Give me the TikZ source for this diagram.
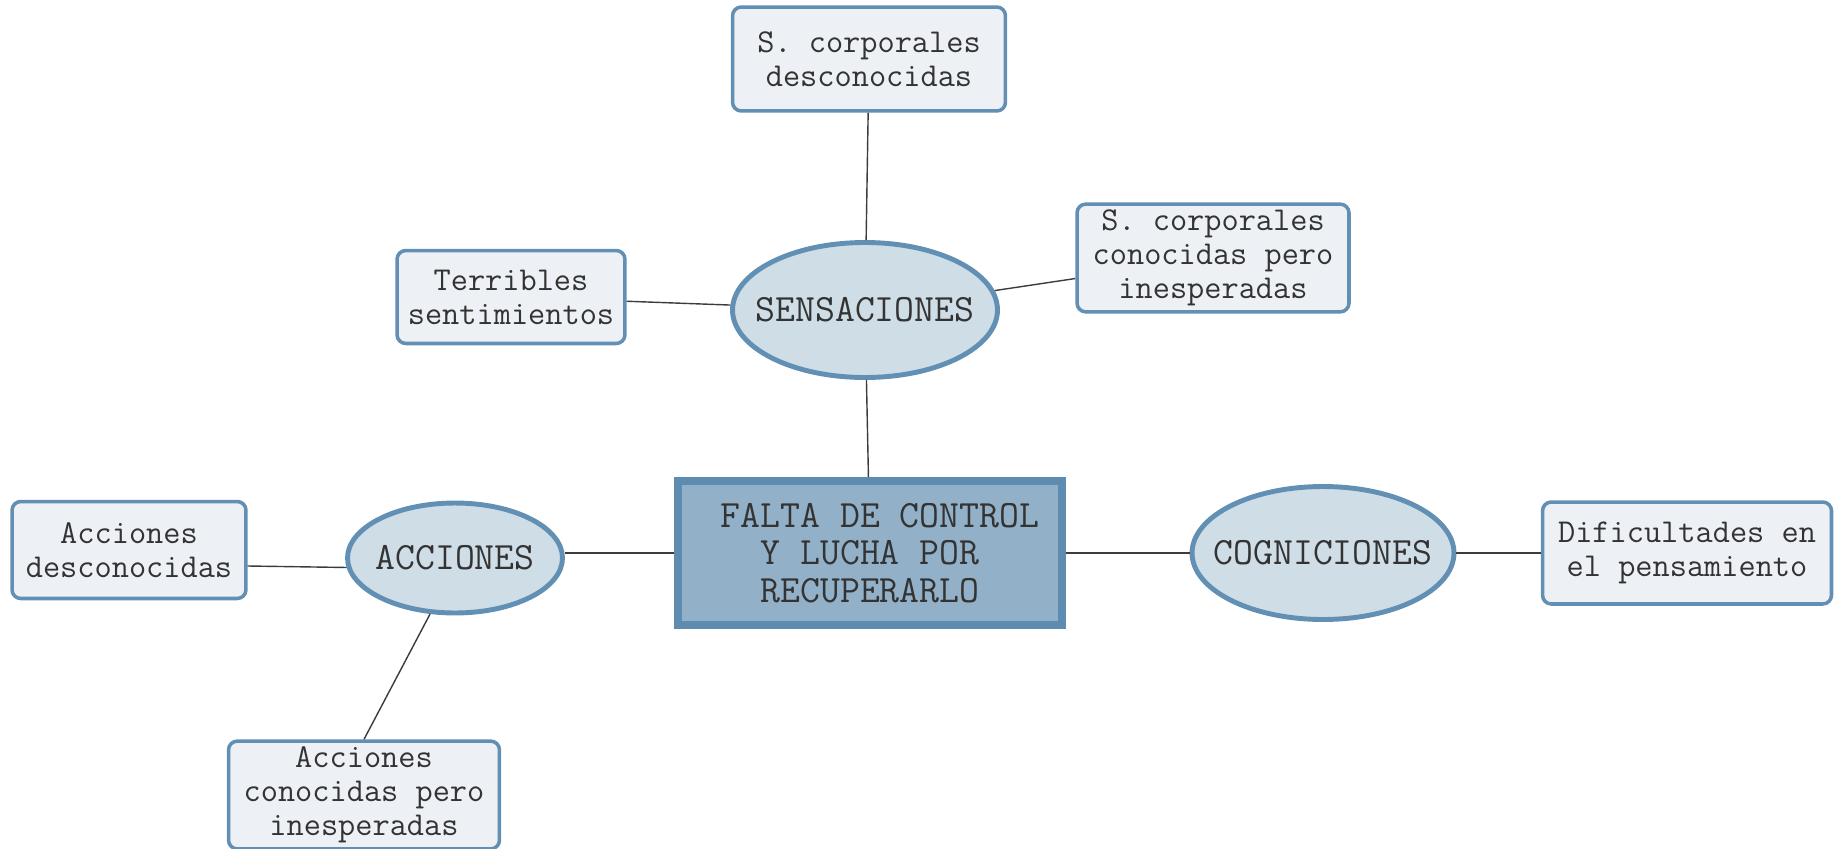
\documentclass[tikz,border=0pt]{standalone}
\usepackage{fontspec}
\usepackage{tikz}
\usetikzlibrary{shapes}
\usetikzlibrary{arrows}
\definecolor{borde}{RGB}{98,143,180}
\definecolor{fondocaja}{RGB}{237,241,246}
\definecolor{fondoelipse}{RGB}{207,221,231}
\definecolor{fondonucleo}{RGB}{146,177,200}
\definecolor{bordenucleo}{RGB}{94,140,176}
\definecolor{texto}{RGB}{51,51,51}
\definecolor{linea}{RGB}{60,60,60}
\newcommand{\sinancho}[1]{\makebox[0pt]{#1}}
\tikzstyle{nucleo}=[
        rectangle,
        draw=bordenucleo,
        line width=4.5pt,
        fill=fondonucleo,
        text=texto,
        align=center,
        minimum width=7.68cm,
        minimum height=2.88cm,
        font=\ttfamily\fontsize{22}{21.5}\selectfont
]
\tikzstyle{categoria}=[ellipse,draw=borde,line width=2.8pt,fill=fondoelipse,text=texto,inner sep=0pt,font=\ttfamily\fontsize{22}{24}\selectfont]
\tikzstyle{detalle}=[rectangle,draw=borde,line width=2pt,rounded corners=5pt,fill=fondocaja,text=texto,align=center,font=\ttfamily\fontsize{19}{19.3}\selectfont]
\tikzstyle{union}=[draw=linea,line width=0.8pt]
\begin{document}
\begin{tikzpicture}[x=0.02cm,y=-0.02cm]
\useasboundingbox (0,0) rectangle (1841,848);
\node[nucleo] (falta) at (870,553) {\hspace{0.4cm}FALTA DE CONTROL\\Y LUCHA POR\\RECUPERARLO};
\node[categoria,minimum width=5.3cm,minimum height=2.7cm] (sens) at (865,310) {\sinancho{SENSACIONES}};
\node[categoria,minimum width=4.3cm,minimum height=2.2cm] (acc) at (455,558) {\sinancho{ACCIONES}};
\node[categoria,minimum width=5.24cm,minimum height=2.66cm] (cogn) at (1323,553) {\sinancho{COGNICIONES}};
\node[detalle,minimum width=5.46cm,minimum height=2.08cm] (scdesc) at (869,59) {S. corporales\\desconocidas};
\node[detalle,minimum width=4.56cm,minimum height=1.86cm] (terr) at (511,297) {Terribles\\sentimientos};
\node[detalle,minimum width=5.44cm,minimum height=2.08cm] (scinesp) at (1213,258) {S. corporales\\conocidas pero\\inesperadas};
\node[detalle,minimum width=4.68cm,minimum height=1.94cm] (accdesc) at (129,550) {Acciones\\desconocidas};
\node[detalle,minimum width=5.42cm,minimum height=2.06cm] (accinesp) at (364,795) {Acciones\\conocidas pero\\inesperadas};
\node[detalle,minimum width=5.78cm,minimum height=2.04cm] (dific) at (1687,553) {Dificultades en\\el pensamiento};
%Enlaces
\draw[union] (sens) -- (scdesc);
\draw[union] (sens) -- (terr);
\draw[union] (sens) -- (scinesp);
\draw[union] (sens) -- (falta);
\draw[union] (falta.west) -- (falta.west -| acc.east);
\draw[union] (falta) -- (cogn);
\draw[union] (cogn) -- (dific);
\draw[union] ([yshift=-0.32cm]accdesc.east) -- (acc.185);
\draw[union] (acc.246) -- (accinesp.north);
\end{tikzpicture}
\end{document}
